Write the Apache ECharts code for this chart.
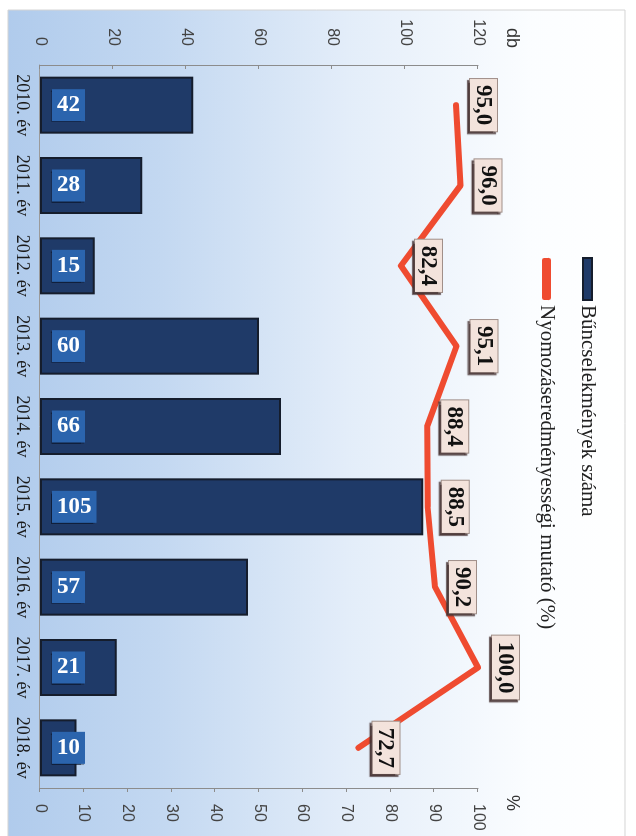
<!DOCTYPE html>
<html>
<head>
<meta charset="utf-8">
<script src="https://cdn.jsdelivr.net/npm/echarts@6/dist/echarts.min.js"></script>
<style>
  html, body { margin: 0; padding: 0; background: #fff; overflow: hidden; }
  /* the chart is drawn upright, then turned 90deg clockwise like the scan */
  #chart {
    position: absolute; left: 0; top: 0;
    width: 836px; height: 636px;
    transform-origin: 0 0;
    transform: translateX(636px) rotate(90deg);
  }
</style>
</head>
<body>
<div id="chart"></div>
<script>
const years = ['2010. év', '2011. év', '2012. év', '2013. év', '2014. év', '2015. év', '2016. év', '2017. év', '2018. év'];
const crimes = [42, 28, 15, 60, 66, 105, 57, 21, 10];
const rates = [95.0, 96.0, 82.4, 95.1, 88.4, 88.5, 90.2, 100.0, 72.7];

const serif = '"Liberation Serif", "Times New Roman", serif';
const sans = '"Liberation Sans", Arial, sans-serif';

const chart = echarts.init(document.getElementById('chart'), null, { renderer: 'canvas' });

const option = {
  animation: false,
  graphic: [
    {
      type: 'rect',
      z: -100,
      silent: true,
      shape: { x: 10, y: 11, width: 840, height: 617 },
      style: {
        fill: {
          type: 'linear', x: 0, y: 0, x2: 0, y2: 1,
          colorStops: [
            { offset: 0, color: '#ffffff' },
            { offset: 0.15, color: '#fbfdff' },
            { offset: 0.45, color: '#e3edf9' },
            { offset: 0.75, color: '#c3d8f1' },
            { offset: 1, color: '#b0cbec' }
          ]
        },
        stroke: '#d4d4d4',
        lineWidth: 1
      }
    }
  ],
  legend: {
    orient: 'vertical',
    left: 252,
    top: 33,
    itemWidth: 42,
    itemHeight: 9,
    itemGap: 20,
    textStyle: { fontFamily: serif, fontSize: 21, color: '#222' },
    data: [
      { name: 'Bűncselekmények száma', icon: 'rect' },
      { name: 'Nyomozáseredményességi mutató (%)', icon: 'roundRect' }
    ]
  },
  grid: { left: 65, right: 48, top: 158, bottom: 40 },
  xAxis: {
    type: 'category',
    data: years,
    axisLine: { lineStyle: { color: '#9a9a9a' } },
    axisTick: { show: false },
    axisLabel: { interval: 0, fontFamily: serif, fontSize: 18, color: '#1a1a1a', margin: 9 }
  },
  yAxis: [
    {
      type: 'value',
      name: 'db',
      position: 'left',
      min: 0, max: 120, interval: 20,
      nameLocation: 'end',
      nameGap: 25,
      nameTextStyle: { fontFamily: sans, fontSize: 18, color: '#333', align: 'right', padding: [0, 17, 0, 0] },
      axisLine: { show: true, lineStyle: { color: '#8c8c8c' } },
      axisTick: { show: true, inside: true, length: 4 },
      axisLabel: { fontFamily: sans, fontSize: 16, color: '#444', margin: 19 },
      splitLine: { show: false }
    },
    {
      type: 'value',
      name: '%',
      position: 'right',
      min: 0, max: 100, interval: 10,
      nameLocation: 'end',
      nameGap: 25,
      nameTextStyle: { fontFamily: sans, fontSize: 18, color: '#333', align: 'left', padding: [0, 0, 0, 7] },
      axisLine: { show: true, lineStyle: { color: '#8c8c8c' } },
      axisTick: { show: true, length: 4 },
      axisLabel: { fontFamily: sans, fontSize: 16, color: '#444', margin: 16 },
      splitLine: { show: false }
    }
  ],
  series: [
    {
      name: 'Bűncselekmények száma',
      type: 'bar',
      yAxisIndex: 0,
      data: crimes,
      barWidth: 57,
      itemStyle: { color: '#1f3a68', borderColor: '#151d2c', borderWidth: 2 },
      label: {
        show: true,
        position: 'insideBottom',
        distance: 12,
        rotate: 90,
        align: 'left',
        verticalAlign: 'middle',
        fontFamily: serif,
        fontWeight: 'bold',
        fontSize: 23,
        lineHeight: 24,
        color: '#fff',
        backgroundColor: '#2b64ad',
        padding: [4, 5, 4, 5],
        shadowColor: 'rgba(10,20,40,0.7)',
        shadowOffsetX: 1,
        shadowOffsetY: 1,
        shadowBlur: 1
      }
    },
    {
      name: 'Nyomozáseredményességi mutató (%)',
      type: 'line',
      yAxisIndex: 1,
      data: rates,
      symbol: 'circle',
      symbolSize: 2,
      itemStyle: { color: '#ef4b30' },
      lineStyle: { color: '#ef4b30', width: 6, cap: 'round', join: 'round' },
      z: 3,
      label: {
        show: true,
        position: 'top',
        distance: 13,
        formatter: p => p.value.toFixed(1).replace('.', ','),
        fontFamily: serif,
        fontWeight: 'bold',
        fontSize: 23,
        lineHeight: 24,
        color: '#111',
        backgroundColor: '#f3e3dc',
        borderColor: '#a08f89',
        borderWidth: 1,
        padding: [2, 6, 1, 6],
        shadowColor: 'rgba(70,50,50,0.8)',
        shadowOffsetX: 2,
        shadowOffsetY: 2,
        shadowBlur: 1
      }
    }
  ]
};

chart.setOption(option);
</script>
</body>
</html>
